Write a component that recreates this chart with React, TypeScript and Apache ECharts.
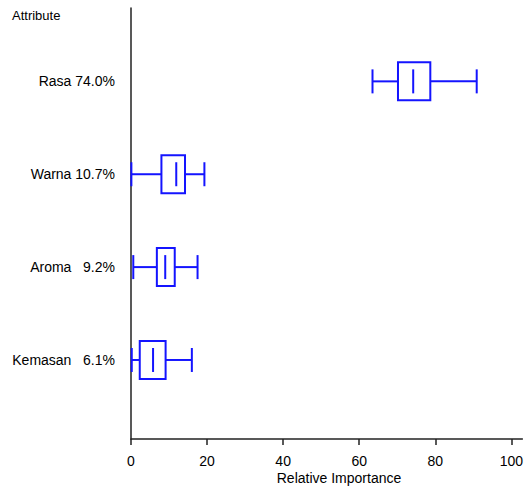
import React, { useEffect, useRef } from "react";
import * as echarts from "echarts";

const attributes = ["Kemasan", "Aroma", "Warna", "Rasa"];
const importance = ["6.1%", "9.2%", "10.7%", "74.0%"];
const whiskerLow = [0.2, 0.6, 0.1, 63.5];
const q1 = [2.3, 6.8, 8.0, 70.2];
const median = [5.8, 9.0, 11.9, 74.2];
const q3 = [9.1, 11.5, 14.2, 78.7];
const whiskerHigh = [16.0, 17.5, 19.3, 90.9];
const xTicks = [0, 20, 40, 60, 80, 100];

const BLUE = "#1414ff";
const FONT = "Liberation Sans";

export default function App() {
  const ref = useRef<HTMLDivElement>(null);
  useEffect(() => {
    if (!ref.current) return;
    const chart = echarts.init(ref.current, null, { renderer: "svg" });
    const data = attributes.map((_, i) => [i + 1, whiskerLow[i], q1[i], median[i], q3[i], whiskerHigh[i]]);
    chart.setOption({
      animation: false,
      grid: { left: 131, right: 0, top: 8, bottom: 50, containLabel: false },
      graphic: [
        { type: "text", left: 12, top: 9, style: { text: "Attribute", font: `13px "${FONT}"`, fill: "#000" } },
        {
          type: "text",
          x: 339,
          y: 478,
          style: { text: "Relative Importance", font: `14px "${FONT}"`, fill: "#000", align: "center", verticalAlign: "middle" },
        },
      ],
      xAxis: {
        type: "value",
        min: 0,
        max: 102.9,
        axisLine: { show: true, lineStyle: { color: "#222", width: 1.5 } },
        axisTick: { show: true, customValues: xTicks, length: 6, lineStyle: { color: "#222", width: 1.5 } },
        axisLabel: { show: true, customValues: xTicks, margin: 15, fontFamily: FONT, fontSize: 14, color: "#000" },
        splitLine: { show: false },
      },
      yAxis: {
        type: "value",
        min: 0.149,
        max: 4.79,
        axisLine: { show: true, lineStyle: { color: "#222", width: 1.5 } },
        axisTick: { show: false },
        splitLine: { show: false },
        axisLabel: {
          show: true,
          customValues: [1, 2, 3, 4],
          margin: 16,
          fontFamily: FONT,
          fontSize: 14,
          color: "#000",
          formatter: (v: number) => {
            const i = Math.round(v) - 1;
            if (i < 0 || i >= attributes.length) return "";
            const pad = importance[i].length < 5 ? " \u2007" : " ";
            return `${attributes[i]}${pad}${importance[i]}`;
          },
        },
      },
      series: [
        {
          type: "custom",
          data,
          renderItem: (params: any, api: any) => {
            const yv = api.value(0);
            const lo = api.coord([api.value(1), yv]);
            const a = api.coord([api.value(2), yv]);
            const m = api.coord([api.value(3), yv]);
            const b = api.coord([api.value(4), yv]);
            const hi = api.coord([api.value(5), yv]);
            const cy = lo[1];
            const bh = 19;
            const ch = 12;
            const st = { stroke: BLUE, lineWidth: 2, fill: "none" };
            return {
              type: "group",
              children: [
                { type: "line", shape: { x1: lo[0], y1: cy, x2: a[0], y2: cy }, style: st },
                { type: "line", shape: { x1: b[0], y1: cy, x2: hi[0], y2: cy }, style: st },
                { type: "line", shape: { x1: lo[0], y1: cy - ch, x2: lo[0], y2: cy + ch }, style: st },
                { type: "line", shape: { x1: hi[0], y1: cy - ch, x2: hi[0], y2: cy + ch }, style: st },
                { type: "rect", shape: { x: a[0], y: cy - bh, width: b[0] - a[0], height: 2 * bh }, style: st },
                { type: "line", shape: { x1: m[0], y1: cy - ch, x2: m[0], y2: cy + ch }, style: st },
              ],
            };
          },
        },
      ],
    });
    return () => chart.dispose();
  }, []);
  return <div ref={ref} style={{ width: 526, height: 489, position: "absolute", left: 0, top: 0 }} />;
}
